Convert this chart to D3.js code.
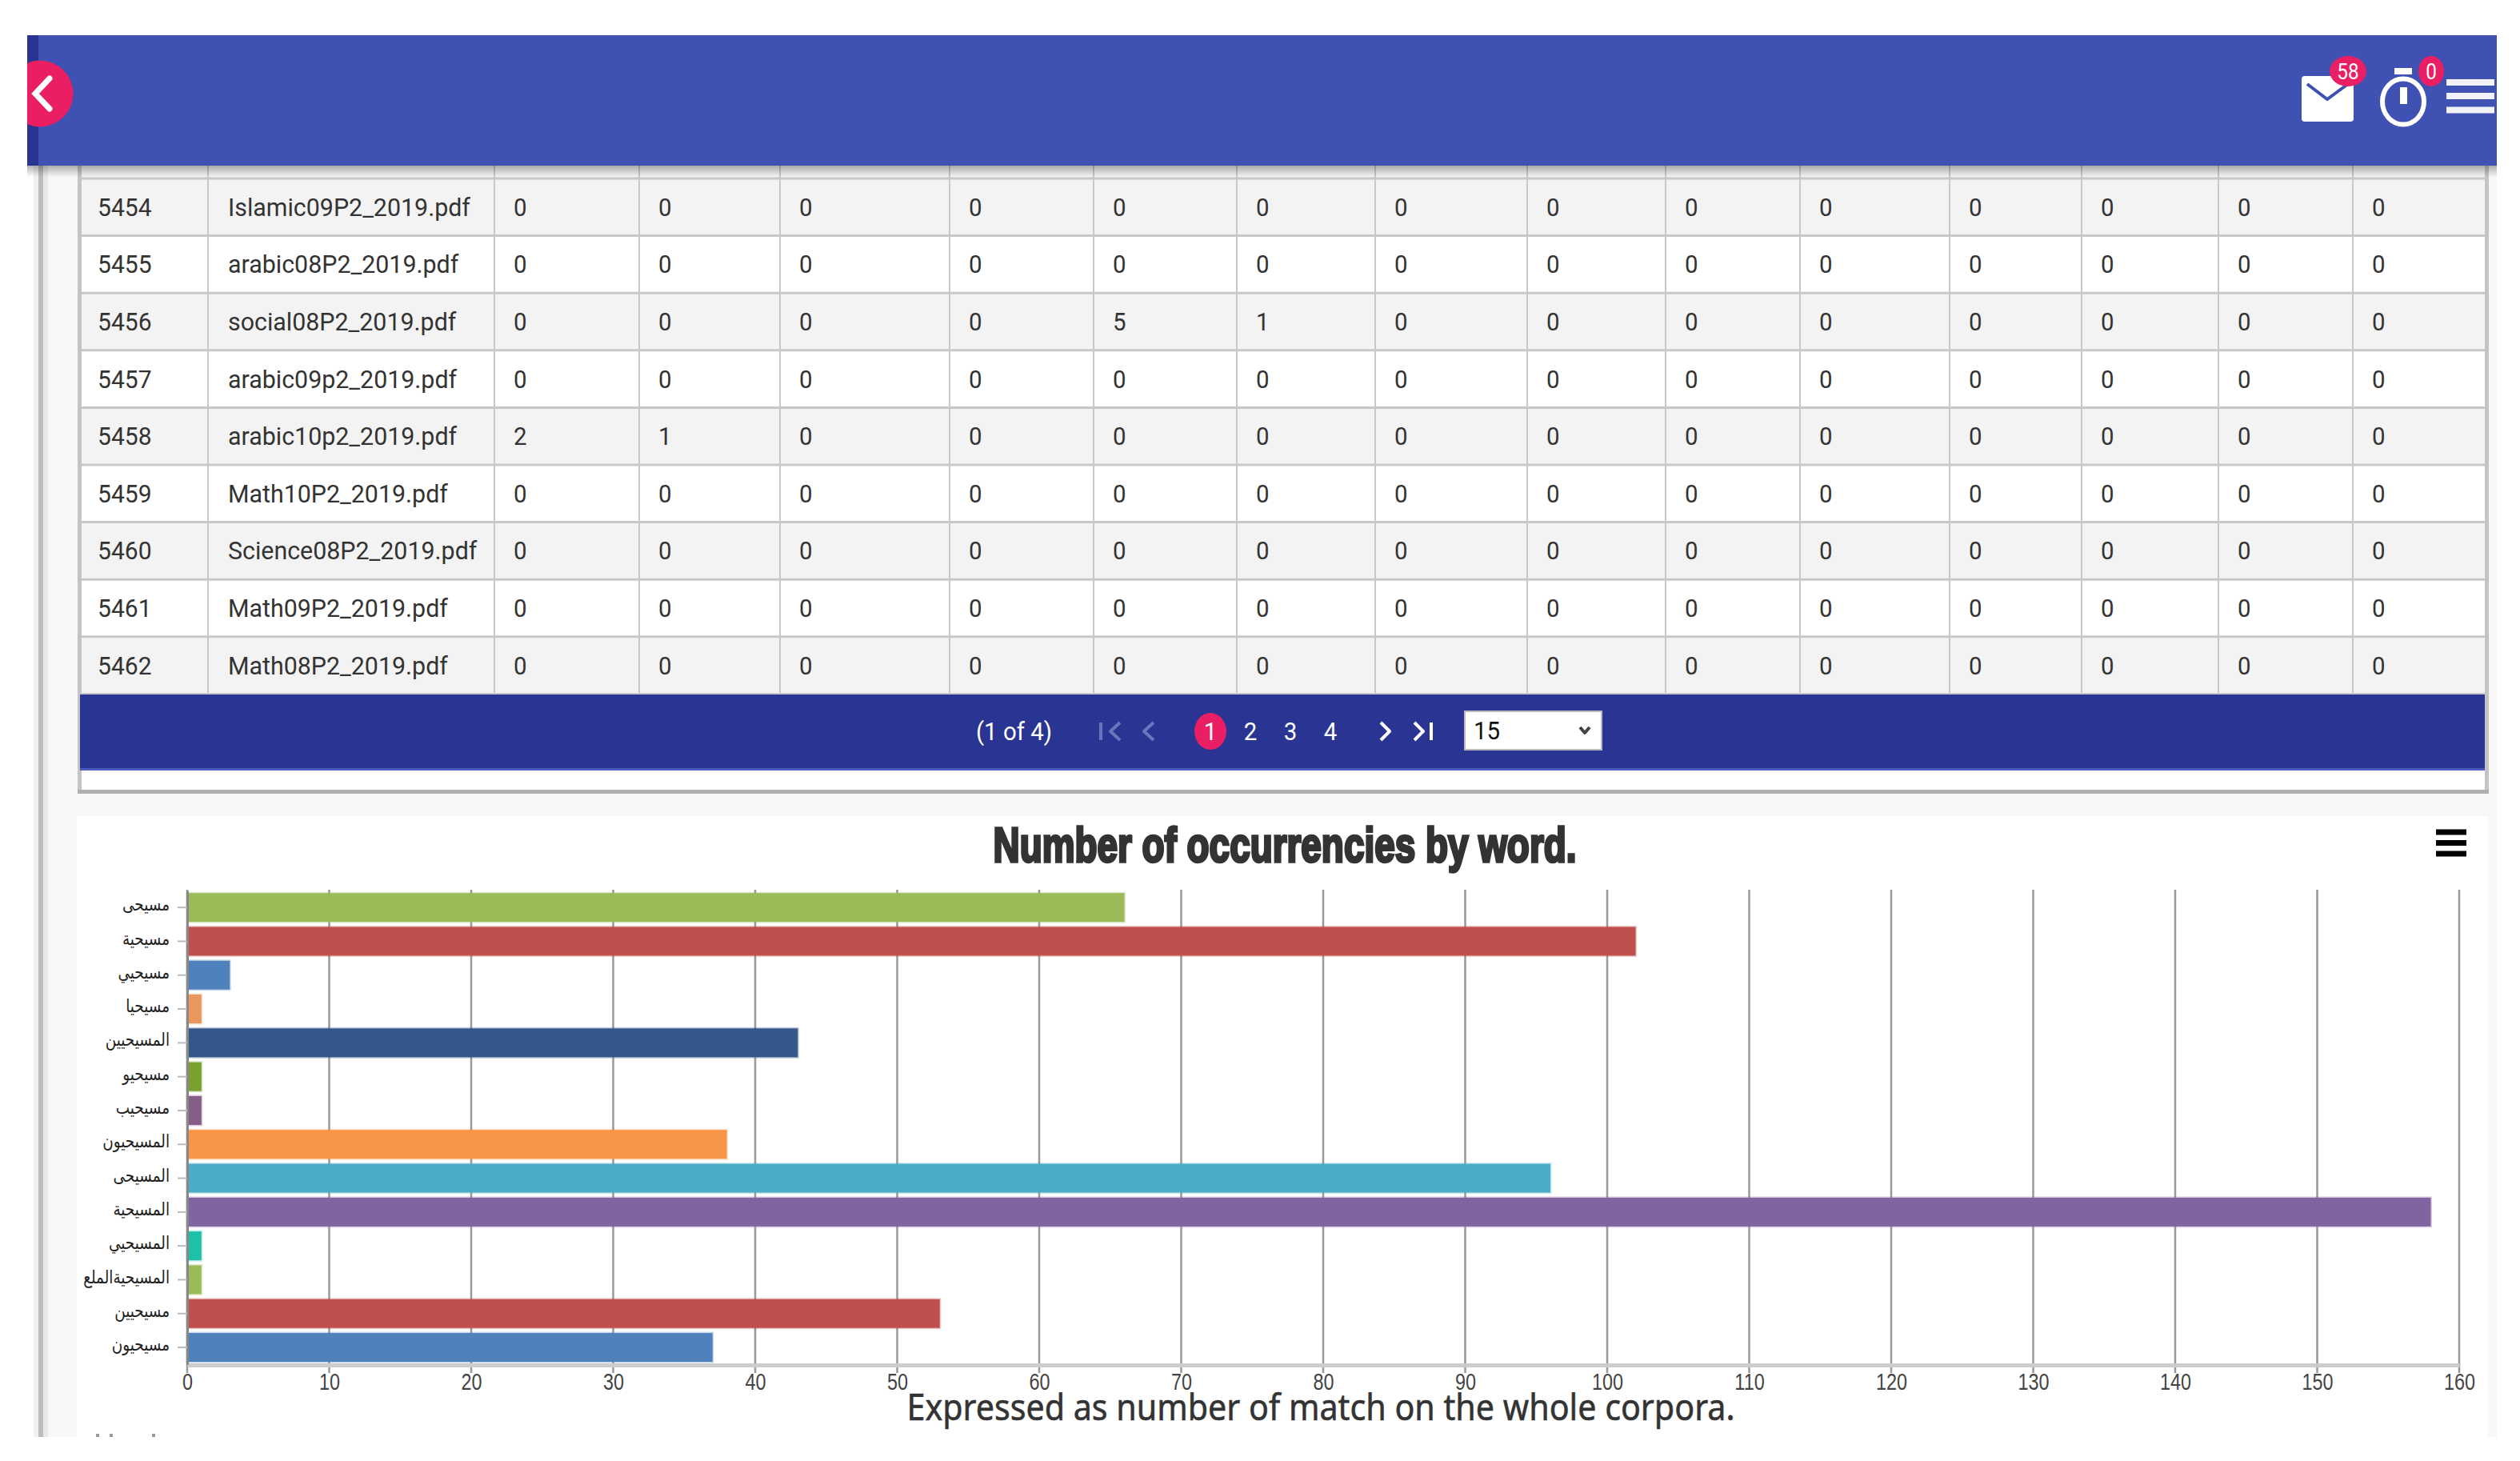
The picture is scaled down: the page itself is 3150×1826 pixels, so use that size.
<!DOCTYPE html>
<html>
<head>
<meta charset="utf-8">
<script src="https://cdn.jsdelivr.net/npm/d3@7"></script>
<style>
  body { margin: 0; background: #fff; }
  svg { display: block; }
</style>
</head>
<body>
<svg id="page" width="3150" height="1826"></svg>
<script>
// chart values
const words = ["مسيحى", "مسيحية", "مسيحيي", "مسيحيا", "المسيحيين", "مسيحيو", "مسيحيب",
    "المسيحيون", "المسيحى", "المسيحية", "المسيحيي", "المسيحيةالملع", "مسيحيين", "مسيحيون"];
const occurrences = [66, 102, 3, 1, 43, 1, 1, 38, 96, 158, 1, 1, 53, 37];
const barColors = ["#9bbb59", "#c0504d", "#4f81bd", "#e9965f", "#345689", "#7aa12f", "#855e88",
    "#f79646", "#4bacc6", "#8064a2", "#1fc0a8", "#9bbb59", "#c0504d", "#4f81bd"];
const xTicks = d3.range(0, 170, 10);

// table values
const rowIds = [5454, 5455, 5456, 5457, 5458, 5459, 5460, 5461, 5462];
const fileNames = ["Islamic09P2_2019.pdf", "arabic08P2_2019.pdf", "social08P2_2019.pdf",
    "arabic09p2_2019.pdf", "arabic10p2_2019.pdf", "Math10P2_2019.pdf",
    "Science08P2_2019.pdf", "Math09P2_2019.pdf", "Math08P2_2019.pdf"];
const counts = [
    [0, 0, 0, 0, 0, 0, 0, 0, 0, 0, 0, 0, 0, 0],
    [0, 0, 0, 0, 0, 0, 0, 0, 0, 0, 0, 0, 0, 0],
    [0, 0, 0, 0, 5, 1, 0, 0, 0, 0, 0, 0, 0, 0],
    [0, 0, 0, 0, 0, 0, 0, 0, 0, 0, 0, 0, 0, 0],
    [2, 1, 0, 0, 0, 0, 0, 0, 0, 0, 0, 0, 0, 0],
    [0, 0, 0, 0, 0, 0, 0, 0, 0, 0, 0, 0, 0, 0],
    [0, 0, 0, 0, 0, 0, 0, 0, 0, 0, 0, 0, 0, 0],
    [0, 0, 0, 0, 0, 0, 0, 0, 0, 0, 0, 0, 0, 0],
    [0, 0, 0, 0, 0, 0, 0, 0, 0, 0, 0, 0, 0, 0]
];
const pages = [1, 2, 3, 4];

const svg = d3.select("#page");
const INDIGO = "#3f51b2", NAVY = "#2a3593", PINK = "#e91e63", LINE = "#c8c8c8";
const ROBOTO = "Roboto, sans-serif";

const rect = (g, x, y, w, h, fill) => g.append("rect")
    .attr("x", x).attr("y", y).attr("width", w).attr("height", h).attr("fill", fill);

const defs = svg.append("defs");
const shadow = defs.append("linearGradient").attr("id", "shadow").attr("x2", 0).attr("y2", 1);
shadow.append("stop").attr("offset", 0).attr("stop-color", "#000").attr("stop-opacity", 0.3);
shadow.append("stop").attr("offset", 1).attr("stop-color", "#000").attr("stop-opacity", 0);
defs.append("clipPath").attr("id", "headerClip").append("rect")
    .attr("x", 34).attr("y", 44).attr("width", 3087).attr("height", 163);

// page background
rect(svg, 42, 207, 3079, 1589, "#f7f7f7");
rect(svg, 42, 207, 6, 1589, "#f0f0f0");
rect(svg, 48, 207, 6, 1589, "#bdbdbd");
rect(svg, 54, 207, 6, 1589, "#e8e8e8");

// data table
const colEdges = [102, 260, 618, 799, 975, 1187, 1367, 1546, 1719, 1909, 2082, 2250, 2437, 2602, 2773, 2941, 3106];
const rowTop = 223, rowH = 71.6;
rect(svg, 97, 207, 13, 780, "#fff");
rect(svg, 97, 207, 5, 780, "#c4c4c4");
rect(svg, 3106, 207, 5, 780, "#c4c4c4");
rect(svg, 102, 207, 3004, 16, "#f3f3f3");

const table = svg.append("g");
table.selectAll("rect.row").data(rowIds).join("rect").attr("class", "row")
    .attr("x", colEdges[0]).attr("width", colEdges[16] - colEdges[0])
    .attr("y", (d, i) => rowTop + i * rowH).attr("height", rowH)
    .attr("fill", (d, i) => i % 2 ? "#fff" : "#f3f3f3");
table.selectAll("line.rowLine").data(d3.range(rowIds.length + 1)).join("line").attr("class", "rowLine")
    .attr("x1", colEdges[0]).attr("x2", colEdges[16])
    .attr("y1", i => rowTop + i * rowH).attr("y2", i => rowTop + i * rowH)
    .attr("stroke", LINE).attr("stroke-width", 3);
table.selectAll("line.colLine").data(colEdges.slice(1, -1)).join("line").attr("class", "colLine")
    .attr("x1", d => d).attr("x2", d => d)
    .attr("y1", 207).attr("y2", rowTop + rowIds.length * rowH)
    .attr("stroke", LINE).attr("stroke-width", 2);

const cellText = (x, y, s, sx) => table.append("text")
    .attr("transform", `translate(${x},${y}) scale(${sx},1)`)
    .attr("font-family", ROBOTO).attr("font-size", 31).attr("fill", "#333").text(s);
rowIds.forEach((id, i) => {
    const base = rowTop + i * rowH + rowH / 2 + 11;
    cellText(122, base, id, 0.97);
    cellText(285, base, fileNames[i], 0.98);
    counts[i].forEach((v, j) => cellText(colEdges[j + 2] + 24, base, v, 0.95));
});

// pager bar
rect(svg, 100, 868, 3006, 92, NAVY);
rect(svg, 100, 960, 3006, 3, "#4a5cc0");
rect(svg, 102, 963, 3004, 24, "#fff");
rect(svg, 97, 987, 3014, 5, "#b0b0b0");

const pagerText = (x, s, anchor) => svg.append("text")
    .attr("transform", `translate(${x},925) scale(0.95,1)`)
    .attr("text-anchor", anchor).attr("font-family", ROBOTO).attr("font-size", 31)
    .attr("fill", "#fff").text(s);
pagerText(1220, "(1 of 4)", "start");
svg.append("ellipse").attr("cx", 1513).attr("cy", 914).attr("rx", 20).attr("ry", 23).attr("fill", PINK);
pages.forEach((p, i) => pagerText([1513, 1563, 1613, 1663][i], p, "middle"));

const chevron = (points, color) => svg.append("path")
    .attr("d", d3.line()(points)).attr("fill", "none").attr("stroke", color)
    .attr("stroke-width", 4).attr("stroke-linejoin", "round");
chevron([[1400, 903], [1388, 914], [1400, 925]], "#6a76bb");
chevron([[1376, 903], [1376, 925]], "#6a76bb");
chevron([[1442, 903], [1430, 914], [1442, 925]], "#6a76bb");
chevron([[1726, 903], [1737, 914], [1726, 925]], "#fff");
chevron([[1768, 903], [1779, 914], [1768, 925]], "#fff");
chevron([[1789, 903], [1789, 925]], "#fff");

rect(svg, 1831, 889, 171, 48, "#fff").attr("stroke", "#bbb").attr("stroke-width", 2);
svg.append("text").attr("transform", "translate(1842,924) scale(0.95,1)")
    .attr("font-family", ROBOTO).attr("font-size", 31).attr("fill", "#111").text("15");
chevron([[1975, 909], [1981, 916], [1987, 909]], "#444");

// chart panel
rect(svg, 96, 1020, 3014, 776, "#fff");
svg.append("text").attr("x", 1606).attr("y", 1077).attr("text-anchor", "middle")
    .attr("font-family", "'Liberation Sans Narrow', 'Liberation Sans', sans-serif")
    .attr("font-weight", "bold").attr("font-size", 61)
    .attr("textLength", 729).attr("lengthAdjust", "spacingAndGlyphs")
    .attr("fill", "#333").attr("stroke", "#333").attr("stroke-width", 3.5)
    .text("Number of occurrencies by word.");
[1040, 1053.5, 1067].forEach(y => rect(svg, 3045, y - 3.5, 38, 7, "#000"));

const x = d3.scaleLinear().domain([0, 160]).range([234, 3074]);
const y = d3.scaleBand().domain(words).range([1113, 1705.2]).paddingInner(0.15).paddingOuter(0.075);

svg.append("g").selectAll("line").data(xTicks).join("line")
    .attr("x1", d => x(d)).attr("x2", d => x(d))
    .attr("y1", 1112).attr("y2", 1716)
    .attr("stroke", "#999").attr("stroke-width", 2.5);

svg.append("g").selectAll("rect").data(words).join("rect")
    .attr("x", x(0))
    .attr("y", d => y(d))
    .attr("width", (d, i) => x(occurrences[i]) - x(0))
    .attr("height", y.bandwidth())
    .attr("fill", (d, i) => barColors[i])
    .attr("stroke", (d, i) => barColors[i])
    .attr("stroke-opacity", 0.3).attr("stroke-width", 3);

const xAxis = svg.append("g").attr("transform", "translate(0,1706)")
    .call(d3.axisBottom(x).tickValues(xTicks).tickSize(0).tickSizeOuter(0));
xAxis.select(".domain").attr("stroke", "#ccc").attr("stroke-width", 5);
xAxis.selectAll("text")
    .attr("y", null).attr("dy", null)
    .attr("transform", "translate(0,31) scale(0.78,1)")
    .attr("font-family", "'Liberation Sans', sans-serif").attr("font-size", 30).attr("fill", "#444");

const yAxis = svg.append("g").attr("transform", "translate(234,0)")
    .call(d3.axisLeft(y).tickSize(12).tickSizeOuter(0).tickPadding(10));
yAxis.select(".domain").attr("stroke", "#888").attr("stroke-width", 3);
yAxis.selectAll("line").attr("stroke", "#bbb").attr("stroke-width", 2);
yAxis.selectAll("text")
    .attr("dy", "0.18em")
    .attr("transform", "translate(-22,0) scale(0.8,1) translate(22,0)")
    .attr("font-family", "'DejaVu Sans', sans-serif").attr("font-size", 23).attr("fill", "#222");

// subtitle
svg.append("text").attr("x", 1651).attr("y", 1775).attr("text-anchor", "middle")
    .attr("font-family", "'Noto Sans', sans-serif").attr("font-size", 46)
    .attr("textLength", 1035).attr("lengthAdjust", "spacingAndGlyphs")
    .attr("fill", "#333").attr("stroke", "#333").attr("stroke-width", 0.6)
    .text("Expressed as number of match on the whole corpora.");

// tops of the next line, cut off by the window edge
[120, 137, 190].forEach(mx => rect(svg, mx, 1792, 4, 4, "#999"));

// header bar
rect(svg, 34, 207, 3087, 14, "url(#shadow)");
rect(svg, 34, 44, 3087, 163, INDIGO);
rect(svg, 34, 44, 14, 163, NAVY);
svg.append("circle").attr("cx", 50).attr("cy", 117).attr("r", 41.5).attr("fill", PINK)
    .attr("clip-path", "url(#headerClip)");
svg.append("path").attr("d", d3.line()([[62, 98], [44, 117], [62, 136]]))
    .attr("fill", "none").attr("stroke", "#fff").attr("stroke-width", 7).attr("stroke-linecap", "round");

// mail icon
rect(svg, 2877, 95, 65, 57, "#fff").attr("rx", 4);
svg.append("path").attr("d", d3.line()([[2884, 105], [2909, 124], [2935, 105]]))
    .attr("fill", "none").attr("stroke", INDIGO).attr("stroke-width", 4);
const badge = (cx, rx, s) => {
    svg.append("ellipse").attr("cx", cx).attr("cy", 89).attr("rx", rx).attr("ry", 19).attr("fill", PINK);
    svg.append("text").attr("transform", `translate(${cx},99) scale(0.9,1)`).attr("text-anchor", "middle")
        .attr("font-family", ROBOTO).attr("font-size", 27).attr("fill", "#fff").text(s);
};

// stopwatch icon
svg.append("ellipse").attr("cx", 3004).attr("cy", 127).attr("rx", 26).attr("ry", 28.5)
    .attr("fill", "none").attr("stroke", "#fff").attr("stroke-width", 6);
rect(svg, 2993, 85, 22, 8, "#fff");
rect(svg, 3000, 109, 9, 21, "#fff");
badge(2935, 23, "58");
badge(3039, 16, "0");

// menu icon
[103, 120, 137.5].forEach(yy => rect(svg, 3058, yy - 4, 60, 8, "#f2f3fa"));
</script>
</body>
</html>
